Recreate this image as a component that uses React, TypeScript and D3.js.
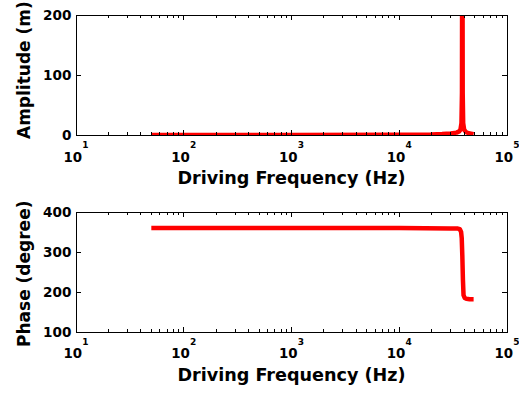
import React from "react";
import * as d3 from "d3";

// Frequency response of a driven oscillator near its resonance
const ampFreq = [50, 1000, 10000, 20000, 25000, 30000, 34000, 36000, 37000, 37800, 38200, 38500, 38800, 39200, 40000, 41500, 44000, 49000];
const ampValue = [0, 0.1, 0.4, 1, 1.6, 2.5, 4, 6, 9, 20, 70, 500, 70, 20, 9, 5, 3, 1.5];

const phaseFreq = [50, 1000, 10000, 30000, 35000, 36500, 37500, 38000, 38500, 39000, 39500, 40500, 42000, 45000, 49000];
const phaseValue = [360, 360, 359.8, 359, 358.5, 357, 350, 335, 290, 230, 192, 185, 183, 182, 182];

const decades = [1, 2, 3, 4, 5];
const ampTicks = [0, 100, 200];
const phaseTicks = [100, 200, 300, 400];

const W = 519;
const H = 395;
const FONT = "'DejaVu Sans', Verdana, sans-serif";

type PanelProps = {
  id: string;
  top: number;
  bottom: number;
  freqs: number[];
  values: number[];
  yDomain: [number, number];
  yTicks: number[];
  yLabel: string;
  yLabelStart: number;
  tickBaseline: number;
  titleBaseline: number;
};

function Panel(p: PanelProps) {
  const x = d3.scaleLog().domain([10, 1e5]).range([76, 507]);
  const y = d3.scaleLinear().domain(p.yDomain).range([p.bottom, p.top]);
  const [x0, x1] = x.range();
  const pts = p.freqs.map((f, i) => [f, p.values[i]] as [number, number]);
  const line = d3
    .line<[number, number]>()
    .x((d) => x(d[0]))
    .y((d) => y(d[1]));

  const minors: number[] = [];
  for (let e = 1; e < 5; e++) {
    for (let m = 2; m <= 9; m++) minors.push(m * Math.pow(10, e));
  }

  return (
    <g>
      <defs>
        <clipPath id={p.id}>
          <rect x={x0} y={p.top} width={x1 - x0} height={p.bottom - p.top} />
        </clipPath>
      </defs>
      <path
        d={line(pts) || ""}
        fill="none"
        stroke="#ff0000"
        strokeWidth={4.5}
        strokeLinejoin="round"
        clipPath={`url(#${p.id})`}
      />
      <rect
        x={x0}
        y={p.top}
        width={x1 - x0}
        height={p.bottom - p.top}
        fill="none"
        stroke="#000"
        strokeWidth={1}
        shapeRendering="crispEdges"
      />
      {/* minor log ticks */}
      {minors.map((v) => (
        <g key={`m${v}`} stroke="#000" strokeWidth={1} shapeRendering="crispEdges">
          <line x1={x(v)} x2={x(v)} y1={p.bottom} y2={p.bottom - 3} />
          <line x1={x(v)} x2={x(v)} y1={p.top} y2={p.top + 3} />
        </g>
      ))}
      {/* major decade ticks and labels */}
      {decades.map((e) => {
        const xv = x(Math.pow(10, e));
        return (
          <g key={`d${e}`}>
            <g stroke="#000" strokeWidth={1} shapeRendering="crispEdges">
              <line x1={xv} x2={xv} y1={p.bottom} y2={p.bottom - 5} />
              <line x1={xv} x2={xv} y1={p.top} y2={p.top + 5} />
            </g>
            <text
              x={xv - 12.5}
              y={p.tickBaseline}
              fontFamily={FONT}
              fontWeight="bold"
              fontSize={13.4}
            >
              10
            </text>
            <text
              x={xv + 6.3}
              y={p.tickBaseline - 13.4}
              fontFamily={FONT}
              fontWeight="bold"
              fontSize={9}
            >
              {e}
            </text>
          </g>
        );
      })}
      {/* value ticks */}
      {p.yTicks.map((v) => (
        <g key={`y${v}`}>
          <g stroke="#000" strokeWidth={1} shapeRendering="crispEdges">
            <line x1={x0} x2={x0 + 5} y1={y(v)} y2={y(v)} />
            <line x1={x1} x2={x1 - 5} y1={y(v)} y2={y(v)} />
          </g>
          <text
            x={71.5}
            y={y(v) + 5}
            textAnchor="end"
            fontFamily={FONT}
            fontWeight="bold"
            fontSize={13.6}
          >
            {v}
          </text>
        </g>
      ))}
      <text
        x={(x0 + x1) / 2}
        y={p.titleBaseline}
        textAnchor="middle"
        fontFamily={FONT}
        fontWeight="bold"
        fontSize={17.6}
      >
        Driving Frequency (Hz)
      </text>
      <text
        transform={`translate(30,${p.yLabelStart}) rotate(-90)`}
        fontFamily={FONT}
        fontWeight="bold"
        fontSize={17}
      >
        {p.yLabel}
      </text>
    </g>
  );
}

export default function App() {
  return (
    <svg width={W} height={H} style={{ display: "block", position: "absolute", left: 0, top: 0, background: "#fff" }}>
      <rect width={W} height={H} fill="#fff" />
      <Panel
        id="clip-amp"
        top={15}
        bottom={135}
        freqs={ampFreq}
        values={ampValue}
        yDomain={[0, 200]}
        yTicks={ampTicks}
        yLabel="Amplitude (m)"
        yLabelStart={139}
        tickBaseline={161.7}
        titleBaseline={184.3}
      />
      <Panel
        id="clip-phase"
        top={212}
        bottom={332}
        freqs={phaseFreq}
        values={phaseValue}
        yDomain={[100, 400]}
        yTicks={phaseTicks}
        yLabel="Phase (degree)"
        yLabelStart={347}
        tickBaseline={358.3}
        titleBaseline={381}
      />
    </svg>
  );
}
